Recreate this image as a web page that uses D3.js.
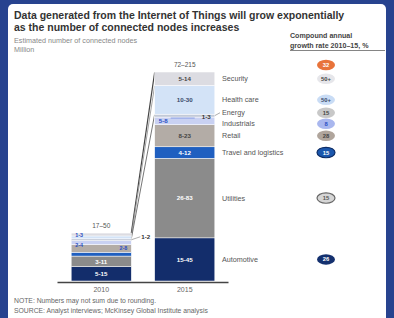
<!DOCTYPE html>
<html><head><meta charset="utf-8">
<script src="https://cdn.jsdelivr.net/npm/d3@7"></script>
<style>html,body{margin:0;padding:0;background:#27438f;overflow:hidden}</style>
</head><body>
<svg id="c" width="394" height="318"></svg>
<script>
// ---- data (millions of connected nodes) ----
const categories = ["Security","Health care","Energy","Industrials","Retail","Travel and logistics","Utilities","Automotive"];
const years = ["2010","2015"];
const low2010  = [1, 1, 1, 2, 2, 2, 3, 5];
const high2010 = [3, 3, 2, 4, 8, 4, 11, 15];
const low2015  = [5, 10, 1, 5, 8, 4, 26, 15];
const high2015 = [14, 30, 3, 8, 23, 12, 83, 45];
const totalLabels = ["17–50", "72–215"];
const cagr = ["50+", "50+", "15", "8", "28", "15", "15", "26"];
const cagrTotal = "32";

// ---- styles ----
const colors = ["#dcdce2","#d3e3f7","#c3cad8","#c9d1f2","#b3aca6","#1f5fc0","#8b8b8b","#132d6b"];
const labelColors = ["#444","#3a4a6a","#333","#2b4fc4","#444","#fff","#fff","#fff"];
const badgeFill = ["#e6e6ea","#c9dcf5","#c8c8c8","#a9b7ee","#b0a59c","#1b57ad","#d6d6d6","#14306e"];
const badgeText = ["#444","#3a4a6a","#444","#2b4fc4","#444","#fff","#555","#fff"];
const badgeStroke = ["none","none","none","none","none","#0d2d66","#666","none"];
const F = "'Liberation Sans', Arial, sans-serif";

const svg = d3.select("#c");
svg.append("rect").attr("width",394).attr("height",318).attr("fill","#27438f");
svg.append("rect").attr("x",8).attr("y",4).attr("width",378).attr("height",330).attr("rx",5).attr("fill","#fff");

// titles
const title = svg.append("text").attr("font-family",F).attr("font-weight","bold").attr("font-size",10.5).attr("fill","#333");
title.append("tspan").attr("x",14).attr("y",19).text("Data generated from the Internet of Things will grow exponentially");
title.append("tspan").attr("x",14).attr("y",31).text("as the number of connected nodes increases");
svg.append("text").attr("x",14).attr("y",43).attr("font-family",F).attr("font-size",7.2).attr("fill","#888").text("Estimated number of connected nodes");
svg.append("text").attr("x",14).attr("y",52).attr("font-family",F).attr("font-size",7.2).attr("fill","#888").text("Million");

const hdr = svg.append("text").attr("font-family",F).attr("font-weight","bold").attr("font-size",7.1).attr("fill","#444");
hdr.append("tspan").attr("x",290).attr("y",38).text("Compound annual");
hdr.append("tspan").attr("x",290).attr("y",48).text("growth rate 2010–15, %");
svg.append("line").attr("x1",290).attr("x2",385).attr("y1",50.5).attr("y2",50.5).attr("stroke","#666").attr("stroke-width",0.8);

// scales
const x = d3.scaleBand().domain(years).range([59.5,226.5]).paddingInner(0.28).paddingOuter(0.14);
const y = d3.scaleLinear().domain([0, d3.sum(high2015)]).range([281, 72]);
const bw = x.bandwidth();

function stackYear(lows, highs){
  let acc = 0; const out = [];
  for (let i = categories.length-1; i >= 0; i--){
    out.push({i, cat:categories[i], low:lows[i], high:highs[i], v0:acc, v1:acc+highs[i]});
    acc += highs[i];
  }
  return out;
}
const stacks = [stackYear(low2010, high2010), stackYear(low2015, high2015)];

// connector lines
const ci = [0,1,2];
const lineCols = ["#444","#9a9a9a","#666"];
ci.forEach((c,k) => {
  const a = stacks[0].find(d => d.i === c), b = stacks[1].find(d => d.i === c);
  svg.append("line").attr("x1",x("2010")+bw).attr("y1",y(a.v1)).attr("x2",x("2015")).attr("y2",y(b.v1))
    .attr("stroke",lineCols[k]).attr("stroke-width",k===0?1.2:0.9);
});

years.forEach((yr, yi) => {
  const g = svg.append("g");
  const st = stacks[yi];
  g.selectAll("rect").data(st).join("rect")
    .attr("x", x(yr)).attr("width", bw)
    .attr("y", d => y(d.v1)).attr("height", d => y(d.v0) - y(d.v1))
    .attr("fill", d => colors[d.i]).attr("stroke","#fff").attr("stroke-width",0.5);
  // total label
  g.append("text").attr("x", x(yr)+bw/2).attr("y", y(d3.sum(st, d=>d.high)) - 5)
    .attr("text-anchor","middle").attr("font-family",F).attr("font-size",6.5).attr("fill","#555").text(totalLabels[yi]);
  // segment labels
  const shown = yi === 0 ? new Set([7,6,4,3,1,2]) : new Set(categories.map((c,i)=>i));
  st.filter(d => shown.has(d.i)).forEach(d => {
    const h = y(d.v0) - y(d.v1);
    const cy = (y(d.v0) + y(d.v1))/2;
    let tx = x(yr)+bw/2, anchor = "middle", ty = cy, fs = 6.2;
    const txt = d.low + "-" + d.high;
    if (d.cat === "Energy") {
      if (yi === 0) {
        tx = x(yr)+bw+10; anchor = "start"; ty = cy - 3;
        g.append("line").attr("x1",x(yr)+bw).attr("y1",cy).attr("x2",tx-1).attr("y2",ty).attr("stroke","#777").attr("stroke-width",0.6);
      } else {
        tx = x(yr)+bw-4; anchor = "end"; ty = cy + 1;
      }
    } else if (h < 9) {
      if (d.cat === "Industrials") { tx = x(yr)+4; anchor = "start"; }
      else { tx = x(yr)+bw-4; anchor = "end"; }
      if (yi === 0) {
        fs = 5.4;
        if (d.cat === "Health care") { tx = x(yr)+4; anchor = "start"; ty = cy - 2; }
        if (d.cat === "Industrials") { ty = cy + 2; }
      }
    }
    g.append("text").attr("x",tx).attr("y",ty).attr("dy","0.35em").attr("text-anchor",anchor)
      .attr("font-family",F).attr("font-weight","bold").attr("font-size",fs)
      .attr("fill", (yi===0 && h<9 && d.cat!=="Energy") ? "#2b4fc4" : labelColors[d.i]).text(txt);
  });
});

// legend (aligned with 2015 segments, de-overlapped)
const leg = stacks[1].map(d => ({i:d.i, cat:d.cat, y:(y(d.v0)+y(d.v1))/2})).sort((a,b)=>a.y-b.y);
for (let k=1;k<leg.length;k++){
  if (leg[k].y - leg[k-1].y < 11) { const m=(leg[k].y+leg[k-1].y)/2; leg[k-1].y = m-5.5; leg[k].y = m+5.5; }
}
leg.forEach(d => {
  svg.append("text").attr("x",222).attr("y",d.y).attr("dy","0.35em").attr("font-family",F).attr("font-size",7.2)
    .attr("fill","#555").text(d.cat);
  svg.append("ellipse").attr("cx",326).attr("cy",d.y).attr("rx",9).attr("ry",5.2)
    .attr("fill",badgeFill[d.i]).attr("stroke",badgeStroke[d.i]).attr("stroke-width",1.2);
  svg.append("text").attr("x",326).attr("y",d.y).attr("dy","0.35em").attr("text-anchor","middle")
    .attr("font-family",F).attr("font-weight","bold").attr("font-size",5.8).attr("fill",badgeText[d.i]).text(cagr[d.i]);
});
// energy leader in 2015
const en = stacks[1].find(d=>d.cat==="Energy"), enL = leg.find(d=>d.cat==="Energy");
svg.append("line").attr("x1",x("2015")+bw).attr("y1",(y(en.v0)+y(en.v1))/2).attr("x2",220).attr("y2",enL.y)
  .attr("stroke","#777").attr("stroke-width",0.6);
// industrials leader
const ind = stacks[1].find(d=>d.cat==="Industrials");
svg.append("line").attr("x1",x("2015")+16).attr("x2",x("2015")+40).attr("y1",y(ind.v1)+1).attr("y2",y(ind.v1)+1)
  .attr("stroke","#5a78d8").attr("stroke-width",0.6);

// total badge
const topY = y(d3.sum(high2015)) - 7;
svg.append("ellipse").attr("cx",326).attr("cy",topY).attr("rx",9).attr("ry",5.2).attr("fill","#e8733a");
svg.append("text").attr("x",326).attr("y",topY).attr("dy","0.35em").attr("text-anchor","middle")
  .attr("font-family",F).attr("font-weight","bold").attr("font-size",5.8).attr("fill","#fff").text(cagrTotal);

// baseline + year axis
const axisY = y(0) + 1.5;
svg.append("line").attr("x1",x.range()[0]-2).attr("x2",x.range()[1]+2).attr("y1",axisY).attr("y2",axisY)
  .attr("stroke","#444").attr("stroke-width",1.4);
const ax = svg.append("g").attr("transform",`translate(0,${axisY})`).call(d3.axisBottom(x).tickSize(0).tickPadding(5));
ax.select(".domain").remove();
ax.selectAll("text").attr("font-family",F).attr("font-size",7).attr("fill","#666");

// footnotes
svg.append("text").attr("x",14).attr("y",303).attr("font-family",F).attr("font-size",6.8).attr("fill","#666")
  .text("NOTE: Numbers may not sum due to rounding.");
svg.append("text").attr("x",14).attr("y",313).attr("font-family",F).attr("font-size",6.8).attr("fill","#666")
  .text("SOURCE: Analyst interviews; McKinsey Global Institute analysis");
</script>
</body></html>
